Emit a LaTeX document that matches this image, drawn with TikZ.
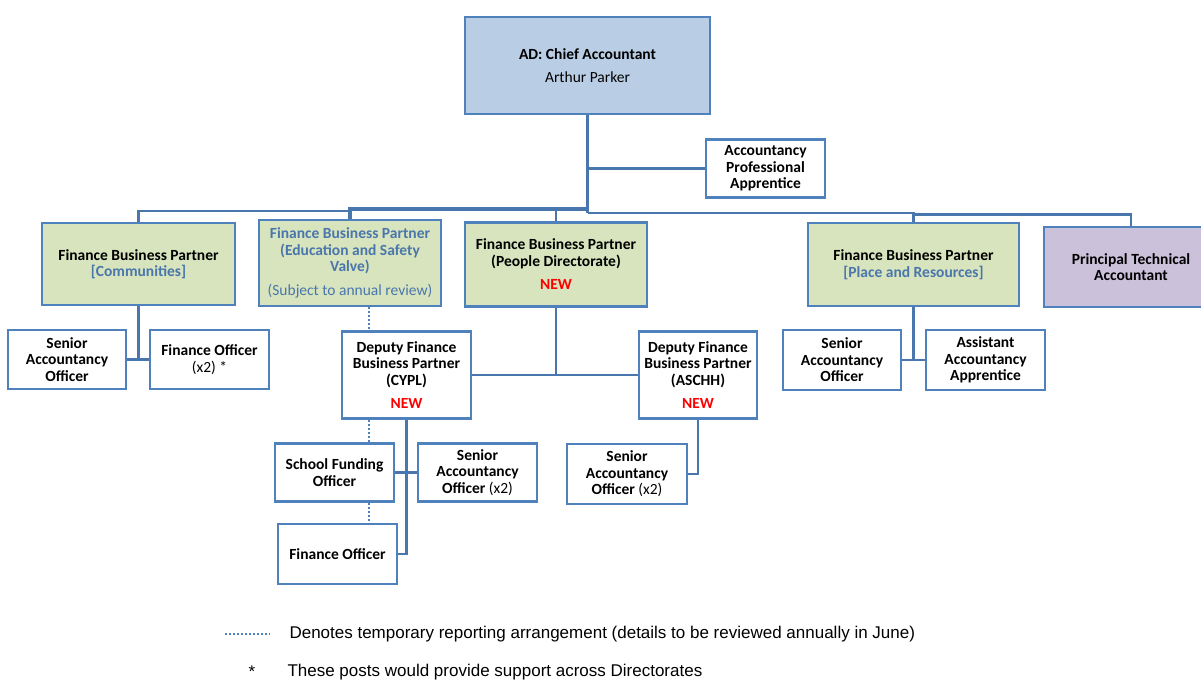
\documentclass[tikz,border=0pt]{standalone}
\usepackage{fontspec}
\setmainfont{Carlito}
\newfontfamily\legendfont{Liberation Sans}
\definecolor{boxblue}{HTML}{4F81BD}
\definecolor{linkblue}{HTML}{4A76AE}
\definecolor{adfill}{HTML}{B9CDE5}
\definecolor{fbpfill}{HTML}{D7E4BD}
\definecolor{ptfill}{HTML}{CCC1DA}
\definecolor{teamblue}{HTML}{4A76AC}
\definecolor{newred}{HTML}{FF0000}
\newcommand{\newpost}{\\[7pt]{\color{newred}NEW}}
\tikzset{
	post/.style={draw=boxblue, line width=2.4pt, align=center, inner sep=2pt,
		font=\fontsize{15.5}{16.5}\selectfont\bfseries},
	link/.style={draw=linkblue, line width=2.2pt},
	templine/.style={draw=boxblue, line width=2pt, dotted},
	keytext/.style={font=\legendfont\fontsize{17}{19}\selectfont},
}
\begin{document}
\begin{tikzpicture}[x=1pt, y=-1pt]
	\useasboundingbox (0,0) rectangle (1201,682);
	\node[post, fill=adfill, minimum width=245, minimum height=97] (ad) at (587.5,65.5)
		{AD: Chief Accountant\\[6pt]\mdseries Arthur Parker};
	\node[post, minimum width=119, minimum height=58] (app) at (765.5,168.5)
		{Accountancy\\Professional\\Apprentice};

	\node[post, fill=fbpfill, minimum width=193, minimum height=82] (comm) at (138.5,264)
		{Finance Business Partner\\{\color{teamblue}[Communities]}};
	\node[post, fill=fbpfill, minimum width=182, minimum height=86, text=teamblue] (edu) at (350,263)
		{Finance Business Partner\\(Education and Safety\\Valve)\\[7pt]\mdseries(Subject to annual review)};
	\node[post, fill=fbpfill, minimum width=182, minimum height=84] (people) at (556,264.5)
		{Finance Business Partner\\(People Directorate)\newpost};
	\node[post, fill=fbpfill, minimum width=211, minimum height=83] (place) at (913.5,264.5)
		{Finance Business Partner\\{\color{teamblue}[Place and Resources]}};
	\node[post, fill=ptfill, minimum width=174, minimum height=80] (ptech) at (1131,267)
		{Principal Technical\\Accountant};

	\node[post, minimum width=118, minimum height=59] (sao1) at (67,359.5)
		{Senior\\Accountancy\\Officer};
	\node[post, minimum width=119, minimum height=59] (fo1) at (209.5,359.5)
		{Finance Officer\\\mdseries(x2) *};
	\node[post, minimum width=129, minimum height=87] (cypl) at (406.5,375)
		{Deputy Finance\\Business Partner\\(CYPL)\newpost};
	\node[post, minimum width=118, minimum height=87] (aschh) at (698,375)
		{Deputy Finance\\Business Partner\\(ASCHH)\newpost};
	\node[post, minimum width=118, minimum height=60] (saop) at (842,360)
		{Senior\\Accountancy\\Officer};
	\node[post, minimum width=119, minimum height=60] (aaa) at (985.5,360)
		{Assistant\\Accountancy\\Apprentice};

	\node[post, minimum width=119, minimum height=58] (sfo) at (334.5,472.5)
		{School Funding\\Officer};
	\node[post, minimum width=119, minimum height=58] (sao2) at (477.5,472.5)
		{Senior\\Accountancy\\Officer {\mdseries(x2)}};
	\node[post, minimum width=119, minimum height=60] (fo2) at (337.5,554)
		{Finance Officer};
	\node[post, minimum width=120, minimum height=60] (sao3) at (627,474)
		{Senior\\Accountancy\\Officer {\mdseries(x2)}};

	% bus under the chief accountant
	\coordinate (trunk) at (587.5,213);
	\coordinate (busl) at (587.5,209);
	\coordinate (busc) at (350,211);
	\coordinate (busr) at (913.5,214.5);
	\coordinate (dotx) at (369,0);
	\draw[link] (ad.south) -- (trunk);
	\draw[link] (ad.south |- app.west) -- (app.west);
	\draw[link, line width=3.2pt] (busl) -| (edu.north);
	\draw[link] (busc) -| (comm.north);
	\draw[link] (people.north |- busl) -- (people.north);
	\draw[link] (trunk) -| (place.north);
	\draw[link] (busr) -| (ptech.north);

	\draw[link] (comm.south) |- (sao1.east);
	\draw[link] (comm.south |- fo1.west) -- (fo1.west);
	\draw[link] (people.south) -- (people.south |- cypl.east);
	\draw[link] (cypl.east) -- (aschh.west);
	\draw[link] (aschh.south) |- (sao3.east);
	\draw[link] (place.south) |- (saop.east);
	\draw[link] (saop.east) -- (aaa.west);
	\draw[link] (cypl.south) |- (fo2.east);
	\draw[link] (sfo.east) -- (sao2.west);

	\draw[templine] (edu.south -| dotx) -- (cypl.north -| dotx);
	\draw[templine] (cypl.south -| dotx) -- (sfo.north -| dotx);
	\draw[templine] (sfo.south -| dotx) -- (fo2.north -| dotx);

	% key
	\coordinate (keya) at (225,634);
	\coordinate (keyb) at (270,634);
	\draw[templine] (keya) -- (keyb);
	\node[anchor=west, keytext] (keytemp) at (286,634)
		{Denotes temporary reporting arrangement (details to be reviewed annually in June)};
	\node[keytext] (keystar) at (252,672) {*};
	\node[anchor=west, keytext] (keysupport) at (284,672)
		{These posts would provide support across Directorates};
\end{tikzpicture}
\end{document}
